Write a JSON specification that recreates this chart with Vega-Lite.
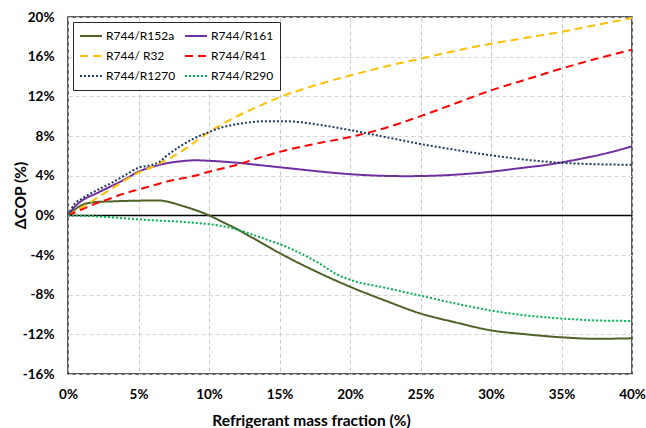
{
  "$schema": "https://vega.github.io/schema/vega-lite/v6.json",
  "width": 564,
  "height": 357,
  "autosize": {"type": "none"},
  "padding": {"left": 68, "top": 17, "right": 14, "bottom": 54},
  "config": {
    "view": {"stroke": "#262626", "strokeWidth": 1.5},
    "font": "Lato",
    "legend": {
      "orient": "top-left",
      "offset": 5,
      "padding": 6,
      "strokeColor": "#262626",
      "fillColor": "white",
      "columns": 2,
      "columnPadding": 8,
      "rowPadding": 4,
      "clipHeight": 16,
      "symbolType": "stroke",
      "symbolStrokeWidth": 2,
      "symbolSize": 480,
      "labelFont": "Lato",
      "labelFontSize": 12,
      "labelColor": "#000",
      "labelOffset": 3
    }
  },
  "data": {"name": "curves"},
  "datasets": {
    "curves": [
      {"series": "R744/R152a", "fraction": 0, "dcop": 0},
      {"series": "R744/R152a", "fraction": 0.5, "dcop": 0.6},
      {"series": "R744/R152a", "fraction": 1, "dcop": 1.05},
      {"series": "R744/R152a", "fraction": 1.5, "dcop": 1.25},
      {"series": "R744/R152a", "fraction": 2, "dcop": 1.35},
      {"series": "R744/R152a", "fraction": 3, "dcop": 1.4},
      {"series": "R744/R152a", "fraction": 4, "dcop": 1.45},
      {"series": "R744/R152a", "fraction": 5, "dcop": 1.48},
      {"series": "R744/R152a", "fraction": 6, "dcop": 1.5},
      {"series": "R744/R152a", "fraction": 6.5, "dcop": 1.5},
      {"series": "R744/R152a", "fraction": 7, "dcop": 1.4},
      {"series": "R744/R152a", "fraction": 8, "dcop": 1.0},
      {"series": "R744/R152a", "fraction": 9, "dcop": 0.55},
      {"series": "R744/R152a", "fraction": 10, "dcop": 0.0},
      {"series": "R744/R152a", "fraction": 11, "dcop": -0.7},
      {"series": "R744/R152a", "fraction": 12, "dcop": -1.4},
      {"series": "R744/R152a", "fraction": 13, "dcop": -2.2},
      {"series": "R744/R152a", "fraction": 14, "dcop": -3.0},
      {"series": "R744/R152a", "fraction": 15, "dcop": -3.8},
      {"series": "R744/R152a", "fraction": 17.5, "dcop": -5.6},
      {"series": "R744/R152a", "fraction": 20, "dcop": -7.2},
      {"series": "R744/R152a", "fraction": 22.5, "dcop": -8.6},
      {"series": "R744/R152a", "fraction": 25, "dcop": -9.9},
      {"series": "R744/R152a", "fraction": 27.5, "dcop": -10.8},
      {"series": "R744/R152a", "fraction": 30, "dcop": -11.6},
      {"series": "R744/R152a", "fraction": 32.5, "dcop": -12.0},
      {"series": "R744/R152a", "fraction": 35, "dcop": -12.3},
      {"series": "R744/R152a", "fraction": 37.5, "dcop": -12.45},
      {"series": "R744/R152a", "fraction": 40, "dcop": -12.4},

      {"series": "R744/R161", "fraction": 0, "dcop": 0},
      {"series": "R744/R161", "fraction": 0.5, "dcop": 0.9},
      {"series": "R744/R161", "fraction": 1, "dcop": 1.5},
      {"series": "R744/R161", "fraction": 2, "dcop": 2.2},
      {"series": "R744/R161", "fraction": 3, "dcop": 2.9},
      {"series": "R744/R161", "fraction": 4, "dcop": 3.6},
      {"series": "R744/R161", "fraction": 5, "dcop": 4.4},
      {"series": "R744/R161", "fraction": 6, "dcop": 4.9},
      {"series": "R744/R161", "fraction": 7, "dcop": 5.25},
      {"series": "R744/R161", "fraction": 8, "dcop": 5.45},
      {"series": "R744/R161", "fraction": 9, "dcop": 5.55},
      {"series": "R744/R161", "fraction": 10, "dcop": 5.5},
      {"series": "R744/R161", "fraction": 12, "dcop": 5.3},
      {"series": "R744/R161", "fraction": 14, "dcop": 5.0},
      {"series": "R744/R161", "fraction": 16, "dcop": 4.7},
      {"series": "R744/R161", "fraction": 18, "dcop": 4.4},
      {"series": "R744/R161", "fraction": 20, "dcop": 4.15},
      {"series": "R744/R161", "fraction": 22, "dcop": 4.0},
      {"series": "R744/R161", "fraction": 24, "dcop": 3.95},
      {"series": "R744/R161", "fraction": 26, "dcop": 4.0},
      {"series": "R744/R161", "fraction": 28, "dcop": 4.15},
      {"series": "R744/R161", "fraction": 30, "dcop": 4.4},
      {"series": "R744/R161", "fraction": 32, "dcop": 4.75},
      {"series": "R744/R161", "fraction": 34, "dcop": 5.1},
      {"series": "R744/R161", "fraction": 36, "dcop": 5.6},
      {"series": "R744/R161", "fraction": 38, "dcop": 6.2},
      {"series": "R744/R161", "fraction": 40, "dcop": 6.95},

      {"series": "R744/ R32", "fraction": 0, "dcop": 0},
      {"series": "R744/ R32", "fraction": 0.5, "dcop": 0.4},
      {"series": "R744/ R32", "fraction": 1, "dcop": 0.8},
      {"series": "R744/ R32", "fraction": 2, "dcop": 1.7},
      {"series": "R744/ R32", "fraction": 3, "dcop": 2.6},
      {"series": "R744/ R32", "fraction": 4, "dcop": 3.5},
      {"series": "R744/ R32", "fraction": 5, "dcop": 4.3},
      {"series": "R744/ R32", "fraction": 6, "dcop": 4.9},
      {"series": "R744/ R32", "fraction": 7, "dcop": 5.6},
      {"series": "R744/ R32", "fraction": 8, "dcop": 6.4},
      {"series": "R744/ R32", "fraction": 9, "dcop": 7.4},
      {"series": "R744/ R32", "fraction": 10, "dcop": 8.4},
      {"series": "R744/ R32", "fraction": 12, "dcop": 10.0},
      {"series": "R744/ R32", "fraction": 14, "dcop": 11.3},
      {"series": "R744/ R32", "fraction": 15, "dcop": 11.9},
      {"series": "R744/ R32", "fraction": 17.5, "dcop": 13.1},
      {"series": "R744/ R32", "fraction": 20, "dcop": 14.1},
      {"series": "R744/ R32", "fraction": 22.5, "dcop": 15.0},
      {"series": "R744/ R32", "fraction": 25, "dcop": 15.8},
      {"series": "R744/ R32", "fraction": 27.5, "dcop": 16.6},
      {"series": "R744/ R32", "fraction": 30, "dcop": 17.3},
      {"series": "R744/ R32", "fraction": 32.5, "dcop": 17.9},
      {"series": "R744/ R32", "fraction": 35, "dcop": 18.5},
      {"series": "R744/ R32", "fraction": 37.5, "dcop": 19.2},
      {"series": "R744/ R32", "fraction": 40, "dcop": 19.9},

      {"series": "R744/R41", "fraction": 0, "dcop": 0},
      {"series": "R744/R41", "fraction": 1, "dcop": 0.6},
      {"series": "R744/R41", "fraction": 2, "dcop": 1.2},
      {"series": "R744/R41", "fraction": 3, "dcop": 1.7},
      {"series": "R744/R41", "fraction": 4, "dcop": 2.2},
      {"series": "R744/R41", "fraction": 5, "dcop": 2.6},
      {"series": "R744/R41", "fraction": 6, "dcop": 3.0},
      {"series": "R744/R41", "fraction": 7, "dcop": 3.4},
      {"series": "R744/R41", "fraction": 8, "dcop": 3.7},
      {"series": "R744/R41", "fraction": 9, "dcop": 4.0},
      {"series": "R744/R41", "fraction": 10, "dcop": 4.4},
      {"series": "R744/R41", "fraction": 12, "dcop": 5.1},
      {"series": "R744/R41", "fraction": 14, "dcop": 6.0},
      {"series": "R744/R41", "fraction": 15, "dcop": 6.4},
      {"series": "R744/R41", "fraction": 17.5, "dcop": 7.2},
      {"series": "R744/R41", "fraction": 20, "dcop": 7.9},
      {"series": "R744/R41", "fraction": 22, "dcop": 8.6},
      {"series": "R744/R41", "fraction": 25, "dcop": 10.0},
      {"series": "R744/R41", "fraction": 27.5, "dcop": 11.3},
      {"series": "R744/R41", "fraction": 30, "dcop": 12.6},
      {"series": "R744/R41", "fraction": 32.5, "dcop": 13.7},
      {"series": "R744/R41", "fraction": 35, "dcop": 14.8},
      {"series": "R744/R41", "fraction": 37.5, "dcop": 15.8},
      {"series": "R744/R41", "fraction": 40, "dcop": 16.7},

      {"series": "R744/R1270", "fraction": 0, "dcop": 0},
      {"series": "R744/R1270", "fraction": 0.5, "dcop": 1.2},
      {"series": "R744/R1270", "fraction": 1, "dcop": 1.7},
      {"series": "R744/R1270", "fraction": 2, "dcop": 2.5},
      {"series": "R744/R1270", "fraction": 3, "dcop": 3.2},
      {"series": "R744/R1270", "fraction": 4, "dcop": 4.0},
      {"series": "R744/R1270", "fraction": 5, "dcop": 4.8},
      {"series": "R744/R1270", "fraction": 6, "dcop": 5.1},
      {"series": "R744/R1270", "fraction": 6.5, "dcop": 5.4},
      {"series": "R744/R1270", "fraction": 7, "dcop": 6.0},
      {"series": "R744/R1270", "fraction": 8, "dcop": 7.0},
      {"series": "R744/R1270", "fraction": 9, "dcop": 7.8},
      {"series": "R744/R1270", "fraction": 10, "dcop": 8.4},
      {"series": "R744/R1270", "fraction": 11, "dcop": 8.9},
      {"series": "R744/R1270", "fraction": 12, "dcop": 9.2},
      {"series": "R744/R1270", "fraction": 13, "dcop": 9.4},
      {"series": "R744/R1270", "fraction": 14, "dcop": 9.5},
      {"series": "R744/R1270", "fraction": 15, "dcop": 9.5},
      {"series": "R744/R1270", "fraction": 16, "dcop": 9.45},
      {"series": "R744/R1270", "fraction": 17.5, "dcop": 9.2},
      {"series": "R744/R1270", "fraction": 20, "dcop": 8.6},
      {"series": "R744/R1270", "fraction": 22.5, "dcop": 7.9},
      {"series": "R744/R1270", "fraction": 25, "dcop": 7.2},
      {"series": "R744/R1270", "fraction": 27.5, "dcop": 6.6},
      {"series": "R744/R1270", "fraction": 30, "dcop": 6.05},
      {"series": "R744/R1270", "fraction": 32.5, "dcop": 5.6},
      {"series": "R744/R1270", "fraction": 35, "dcop": 5.3},
      {"series": "R744/R1270", "fraction": 37.5, "dcop": 5.15},
      {"series": "R744/R1270", "fraction": 40, "dcop": 5.1},

      {"series": "R744/R290", "fraction": 0, "dcop": 0},
      {"series": "R744/R290", "fraction": 2, "dcop": -0.1},
      {"series": "R744/R290", "fraction": 4, "dcop": -0.3},
      {"series": "R744/R290", "fraction": 6, "dcop": -0.5},
      {"series": "R744/R290", "fraction": 8, "dcop": -0.65},
      {"series": "R744/R290", "fraction": 10, "dcop": -0.9},
      {"series": "R744/R290", "fraction": 11, "dcop": -1.1},
      {"series": "R744/R290", "fraction": 12, "dcop": -1.45},
      {"series": "R744/R290", "fraction": 13, "dcop": -1.9},
      {"series": "R744/R290", "fraction": 14, "dcop": -2.4},
      {"series": "R744/R290", "fraction": 15, "dcop": -2.9},
      {"series": "R744/R290", "fraction": 16, "dcop": -3.5},
      {"series": "R744/R290", "fraction": 17, "dcop": -4.2},
      {"series": "R744/R290", "fraction": 18, "dcop": -5.0},
      {"series": "R744/R290", "fraction": 19, "dcop": -5.9},
      {"series": "R744/R290", "fraction": 20, "dcop": -6.5},
      {"series": "R744/R290", "fraction": 22.5, "dcop": -7.3},
      {"series": "R744/R290", "fraction": 25, "dcop": -8.1},
      {"series": "R744/R290", "fraction": 27.5, "dcop": -8.9},
      {"series": "R744/R290", "fraction": 30, "dcop": -9.6},
      {"series": "R744/R290", "fraction": 32.5, "dcop": -10.1},
      {"series": "R744/R290", "fraction": 35, "dcop": -10.4},
      {"series": "R744/R290", "fraction": 37.5, "dcop": -10.6},
      {"series": "R744/R290", "fraction": 40, "dcop": -10.65}
    ]
  },
  "mark": {"type": "line", "interpolate": "monotone", "strokeWidth": 2},
  "encoding": {
    "x": {
      "field": "fraction",
      "type": "quantitative",
      "scale": {"domain": [0, 40], "nice": false},
      "axis": {
        "values": [0, 5, 10, 15, 20, 25, 30, 35, 40],
        "domain": false,
        "ticks": false,
        "grid": true,
        "gridColor": "#C8C8C8",
        "gridDash": [4, 3],
        "labelOverlap": false,
        "labelFlush": false,
        "labelExpr": "datum.value + '%'",
        "labelFont": "Lato",
        "labelFontWeight": "bold",
        "labelFontSize": 13.5,
        "labelColor": "#000",
        "labelPadding": 13,
        "title": "Refrigerant mass fraction (%)",
        "titleFont": "Lato",
        "titleFontWeight": "bold",
        "titleFontSize": 15.5,
        "titleColor": "#000",
        "titleX": 243,
        "titleY": 46,
        "titleBaseline": "middle",
        "titleAlign": "center"
      }
    },
    "y": {
      "field": "dcop",
      "type": "quantitative",
      "scale": {"domain": [-16, 20], "nice": false, "zero": false},
      "axis": {
        "values": [-16, -12, -8, -4, 0, 4, 8, 12, 16, 20],
        "domain": false,
        "ticks": false,
        "grid": true,
        "gridColor": {"condition": {"test": "datum.value === 0", "value": "#000000"}, "value": "#D4D4D4"},
        "gridDash": {"condition": {"test": "datum.value === 0", "value": [1, 0]}, "value": [4, 3]},
        "gridWidth": {"condition": {"test": "datum.value === 0", "value": 1.5}, "value": 1},
        "labelOverlap": false,
        "labelExpr": "datum.value + '%'",
        "labelFont": "Lato",
        "labelFontWeight": "bold",
        "labelFontSize": 13.5,
        "labelColor": "#000",
        "labelPadding": 14,
        "title": "ΔCOP (%)",
        "titleFont": "Lato",
        "titleFontWeight": "bold",
        "titleFontSize": 15.5,
        "titleColor": "#000",
        "titleX": -48,
        "titleY": 178,
        "titleAngle": -90,
        "titleBaseline": "middle",
        "titleAlign": "center"
      }
    },
    "color": {
      "field": "series",
      "type": "nominal",
      "scale": {
        "domain": ["R744/R152a", "R744/ R32", "R744/R1270", "R744/R161", "R744/R41", "R744/R290"],
        "range": ["#4F6228", "#FFC000", "#203864", "#7030A0", "#FF0000", "#00B050"]
      },
      "legend": {"title": null}
    },
    "strokeDash": {
      "field": "series",
      "type": "nominal",
      "scale": {
        "domain": ["R744/R152a", "R744/ R32", "R744/R1270", "R744/R161", "R744/R41", "R744/R290"],
        "range": [[1, 0], [8, 5], [2, 2], [1, 0], [8, 5], [2, 2]]
      },
      "legend": {"title": null}
    }
  }
}
